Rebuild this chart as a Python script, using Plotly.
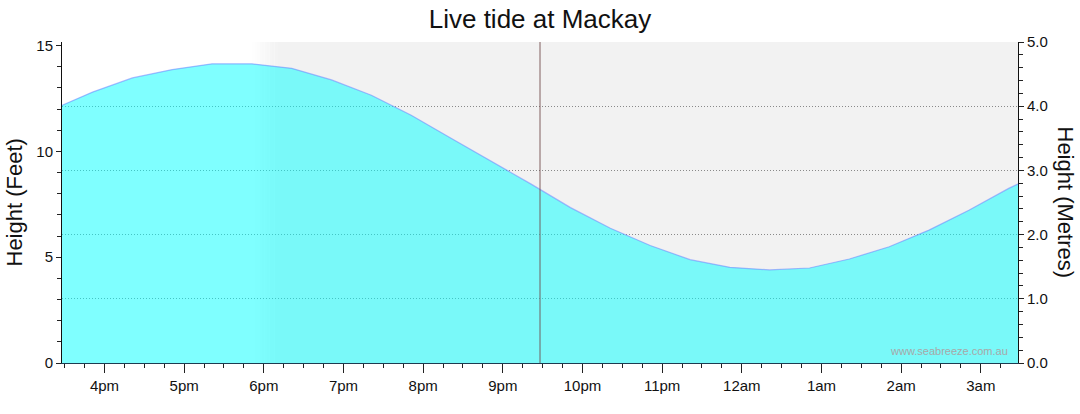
import plotly.graph_objects as go
import pandas as pd

# ---- data (metres) ----
times = ["2024-01-01 15:21", "2024-01-01 15:51", "2024-01-01 16:21", "2024-01-01 16:51",
         "2024-01-01 17:21", "2024-01-01 17:51", "2024-01-01 18:21", "2024-01-01 18:51",
         "2024-01-01 19:21", "2024-01-01 19:51", "2024-01-01 20:21", "2024-01-01 20:51",
         "2024-01-01 21:21", "2024-01-01 21:51", "2024-01-01 22:21", "2024-01-01 22:51",
         "2024-01-01 23:21", "2024-01-01 23:51", "2024-01-02 00:21", "2024-01-02 00:51",
         "2024-01-02 01:21", "2024-01-02 01:51", "2024-01-02 02:21", "2024-01-02 02:51",
         "2024-01-02 03:21", "2024-01-02 03:51"]
heights_m = [3.95, 4.22, 4.44, 4.57, 4.66, 4.66, 4.59, 4.41,
             4.17, 3.86, 3.50, 3.15, 2.79, 2.42, 2.10, 1.83,
             1.61, 1.49, 1.45, 1.48, 1.62, 1.81, 2.07, 2.38,
             2.72, 3.01]

tick_times = ["2024-01-01 16:00", "2024-01-01 17:00", "2024-01-01 18:00", "2024-01-01 19:00",
              "2024-01-01 20:00", "2024-01-01 21:00", "2024-01-01 22:00", "2024-01-01 23:00",
              "2024-01-02 00:00", "2024-01-02 01:00", "2024-01-02 02:00", "2024-01-02 03:00"]
tick_labels = ["4pm", "5pm", "6pm", "7pm", "8pm", "9pm", "10pm", "11pm",
               "12am", "1am", "2am", "3am"]

now_time = "2024-01-01 21:28"
view_start = "2024-01-01 15:28"
view_end = "2024-01-02 03:28"
dusk_start = "2024-01-01 17:51"
night_start = "2024-01-01 18:10"

feet_range = [0, 15.17]
metre_range = [0, 5]

FONT = "Liberation Sans, Arial, sans-serif"
PW = 956  # plot width in px
PH = 321  # plot height in px

fig = go.Figure()
# empty trace to anchor the feet axis
fig.add_trace(go.Scatter(x=[], y=[], yaxis="y", showlegend=False, hoverinfo="skip"))
fig.add_trace(go.Scatter(
    x=times, y=heights_m, yaxis="y2", mode="lines", fill="tozeroy",
    fillcolor="rgba(0,255,255,0.5)",
    line=dict(color="rgba(110,130,255,0.55)", width=1.2),
    showlegend=False, hoverinfo="x+y"))

shapes = []
# dusk gradient then night shading
ds = pd.Timestamp(dusk_start)
ns = pd.Timestamp(night_start)
steps = 10
for i in range(steps):
    a = ds + (ns - ds) * i / steps
    b = ds + (ns - ds) * (i + 1) / steps
    g = int(round(255 - (255 - 242) * (i + 0.5) / steps))
    shapes.append(dict(type="rect", xref="x", yref="paper", x0=a, x1=b, y0=0, y1=1,
                       fillcolor=f"rgb({g},{g},{g})", line=dict(width=0), layer="below"))
shapes.append(dict(type="rect", xref="x", yref="paper", x0=ns, x1=view_end, y0=0, y1=1,
                   fillcolor="#f2f2f2", line=dict(width=0), layer="below"))
# current time line
shapes.append(dict(type="line", xref="x", yref="paper", x0=now_time, x1=now_time, y0=0, y1=1,
                   line=dict(color="rgba(110,70,70,0.85)", width=1), layer="above"))

fig.update_layout(
    width=1080, height=414,
    margin=dict(l=62, r=62, t=42, b=51, autoexpand=False),
    paper_bgcolor="white", plot_bgcolor="white",
    font=dict(family=FONT, size=15, color="#111"),
    title=dict(text="Live tide at Mackay", x=0.5, xanchor="center", xref="paper",
               y=1 - 19 / 414, yanchor="middle", font=dict(size=26, color="#111")),
    shapes=shapes,
    xaxis=dict(type="date", range=[view_start, view_end], tickmode="array",
               tickvals=tick_times, ticktext=tick_labels, ticks="outside", ticklen=9,
               tickcolor="#222", showgrid=False, showline=True, linecolor="#1d3b50",
               linewidth=1, zeroline=False, automargin=False,
               minor=dict(tickmode="linear", tick0="2024-01-01 16:00", dtick=900000,
                          ticks="outside", ticklen=4, tickcolor="#222", showgrid=False),
               tickfont=dict(size=15)),
    yaxis=dict(range=feet_range, tickmode="linear", tick0=0, dtick=5, ticks="outside",
               ticklen=5, tickcolor="#222", showgrid=False, showline=True, linecolor="#111",
               zeroline=False, fixedrange=True, automargin=False,
               minor=dict(tickmode="linear", tick0=0, dtick=1, ticks="outside", ticklen=4,
                          tickcolor="#222", showgrid=False),
               tickfont=dict(size=15)),
    yaxis2=dict(range=metre_range, overlaying="y", side="right", tickmode="linear", tick0=0,
                dtick=1, tickformat=".1f", ticks="outside", ticklen=5, tickcolor="#222",
                showgrid=True, gridcolor="#8a8a8a", griddash="1px,2px", gridwidth=1,
                showline=True, linecolor="#111", zeroline=False, automargin=False,
                minor=dict(tickmode="linear", tick0=0, dtick=0.2, ticks="outside", ticklen=4,
                           tickcolor="#222", showgrid=False),
                tickfont=dict(size=15)),
    annotations=[
        dict(text="Height (Feet)", xref="paper", yref="paper", x=(14 - 62) / PW,
             y=0.5, xanchor="center", yanchor="middle", textangle=-90, showarrow=False,
             font=dict(size=22, color="#111")),
        dict(text="Height (Metres)", xref="paper", yref="paper", x=1 + 47 / PW,
             y=0.5, xanchor="center", yanchor="middle", textangle=90, showarrow=False,
             font=dict(size=22, color="#111")),
        dict(text="www.seabreeze.com.au", xref="paper", yref="paper", x=1 - 8 / PW,
             y=4 / PH, xanchor="right", yanchor="bottom", showarrow=False,
             font=dict(size=11, color="#a8a8a8")),
    ],
)

fig.write_html("out.html", config={"displayModeBar": False},
               post_script="document.body.style.margin='0';document.body.style.overflow='hidden';")
